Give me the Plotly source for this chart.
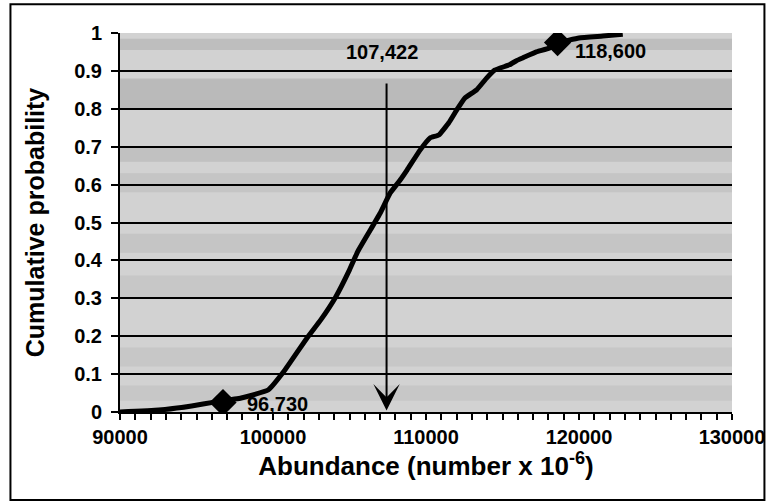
import plotly.graph_objects as go

# Cumulative distribution of abundance (number x 10^-6)
abundance = [90000, 92530, 94680, 96170, 97920, 99680, 100780, 102270, 103120,
             104090, 105000, 105520, 106360, 107010, 107660, 108310, 108770,
             109610, 110260, 110840, 111490, 112010, 112530, 113310, 113960,
             114480, 115450, 115910, 116360, 117210, 118050, 118700, 120000,
             121560, 122860]
cum_prob = [0.0, 0.005, 0.016, 0.026, 0.037, 0.058, 0.111, 0.198, 0.243,
            0.303, 0.375, 0.422, 0.480, 0.525, 0.578, 0.612, 0.639,
            0.691, 0.723, 0.731, 0.763, 0.797, 0.828, 0.850, 0.881,
            0.902, 0.916, 0.927, 0.935, 0.950, 0.960, 0.975, 0.987,
            0.992, 0.997]

# 2.5% and 97.5% bounds, and the mean
bound_values = [96730, 118600]
bound_probs = [0.025, 0.975]
bound_labels = ["96,730", "118,600"]
mean_value = 107422
mean_label = "107,422"

x_ticks = [90000, 100000, 110000, 120000, 130000]
y_ticks = [0, 0.1, 0.2, 0.3, 0.4, 0.5, 0.6, 0.7, 0.8, 0.9, 1]
y_tick_text = ["0", "0.1", "0.2", "0.3", "0.4", "0.5", "0.6", "0.7", "0.8", "0.9", "1"]

FONT = "Liberation Sans, Arial, sans-serif"
BOLD = dict(family=FONT, size=20, color="black", weight="bold")

fig = go.Figure()

fig.add_trace(go.Scatter(
    x=abundance, y=cum_prob, mode="lines",
    line=dict(color="black", width=5, shape="spline", smoothing=0.3),
    showlegend=False, hoverinfo="skip",
))

fig.add_trace(go.Scatter(
    x=bound_values, y=bound_probs, mode="markers",
    marker=dict(symbol="diamond", size=21, color="black"),
    showlegend=False, hoverinfo="skip",
))

# value labels beside the bound markers
fig.add_annotation(x=bound_values[0], y=bound_probs[0], text=bound_labels[0],
                   showarrow=False, xanchor="left", yanchor="middle", xshift=22, yshift=-1,
                   font=BOLD)
fig.add_annotation(x=bound_values[1], y=bound_probs[1], text=bound_labels[1],
                   showarrow=False, xanchor="left", yanchor="middle", xshift=15, yshift=-9,
                   font=BOLD)

# arrow marking the mean
fig.add_annotation(x=mean_value, y=0.004, ax=mean_value, ay=0.871,
                   xref="x", yref="y", axref="x", ayref="y",
                   showarrow=True, arrowhead=3, arrowsize=2.2, arrowwidth=2,
                   arrowcolor="black", text="")
fig.add_annotation(x=mean_value, y=0.95, text=mean_label, showarrow=False,
                   xanchor="center", yanchor="middle", xshift=-5, font=BOLD)

# faint horizontal banding in the plotting area
bands = [(0.955, 0.985, 0.16), (0.80, 0.88, 0.20), (0.66, 0.70, 0.14),
         (0.58, 0.63, 0.11), (0.42, 0.47, 0.11), (0.30, 0.36, 0.09),
         (0.12, 0.17, 0.09), (0.03, 0.07, 0.09)]
for y0, y1, op in bands:
    fig.add_shape(type="rect", xref="x", yref="y", x0=90000, x1=130000, y0=y0, y1=y1,
                  fillcolor="#5a5a5a", opacity=op, line_width=0, layer="below")

# outer frame
fig.add_shape(type="rect", xref="paper", yref="paper",
              x0=-0.179, x1=1.053, y0=-0.232, y1=1.076,
              line=dict(color="black", width=2), fillcolor="rgba(0,0,0,0)")

fig.update_layout(
    width=777, height=504,
    margin=dict(l=120, r=39, t=33, b=92),
    paper_bgcolor="white", plot_bgcolor="#d2d2d2",
    font=dict(family=FONT, color="black"),
    xaxis=dict(
        range=[90000, 130000], tickvals=x_ticks, tickformat="d",
        ticks="outside", ticklen=6, tickwidth=1.5, tickcolor="black",
        minor=dict(dtick=1000, ticks="outside", ticklen=6, tickwidth=1.5, tickcolor="black",
                   showgrid=False),
        showgrid=False, zeroline=False,
        showline=True, linecolor="black", linewidth=2,
        tickfont=BOLD,
        title=dict(text="Abundance (number x 10<sup>-6</sup>)", standoff=6,
                   font=dict(family=FONT, size=26, color="black", weight="bold")),
    ),
    yaxis=dict(
        range=[0, 1], tickvals=y_ticks, ticktext=y_tick_text,
        ticks="outside", ticklen=7, tickwidth=1.5, tickcolor="black",
        ticklabelstandoff=5,
        showgrid=True, gridcolor="black", gridwidth=1.5, zeroline=False,
        showline=True, linecolor="black", linewidth=2,
        tickfont=BOLD,
        title=dict(text="Cumulative probability", standoff=22,
                   font=dict(family=FONT, size=25, color="black", weight="bold")),
    ),
)

fig.write_html("out.html")
